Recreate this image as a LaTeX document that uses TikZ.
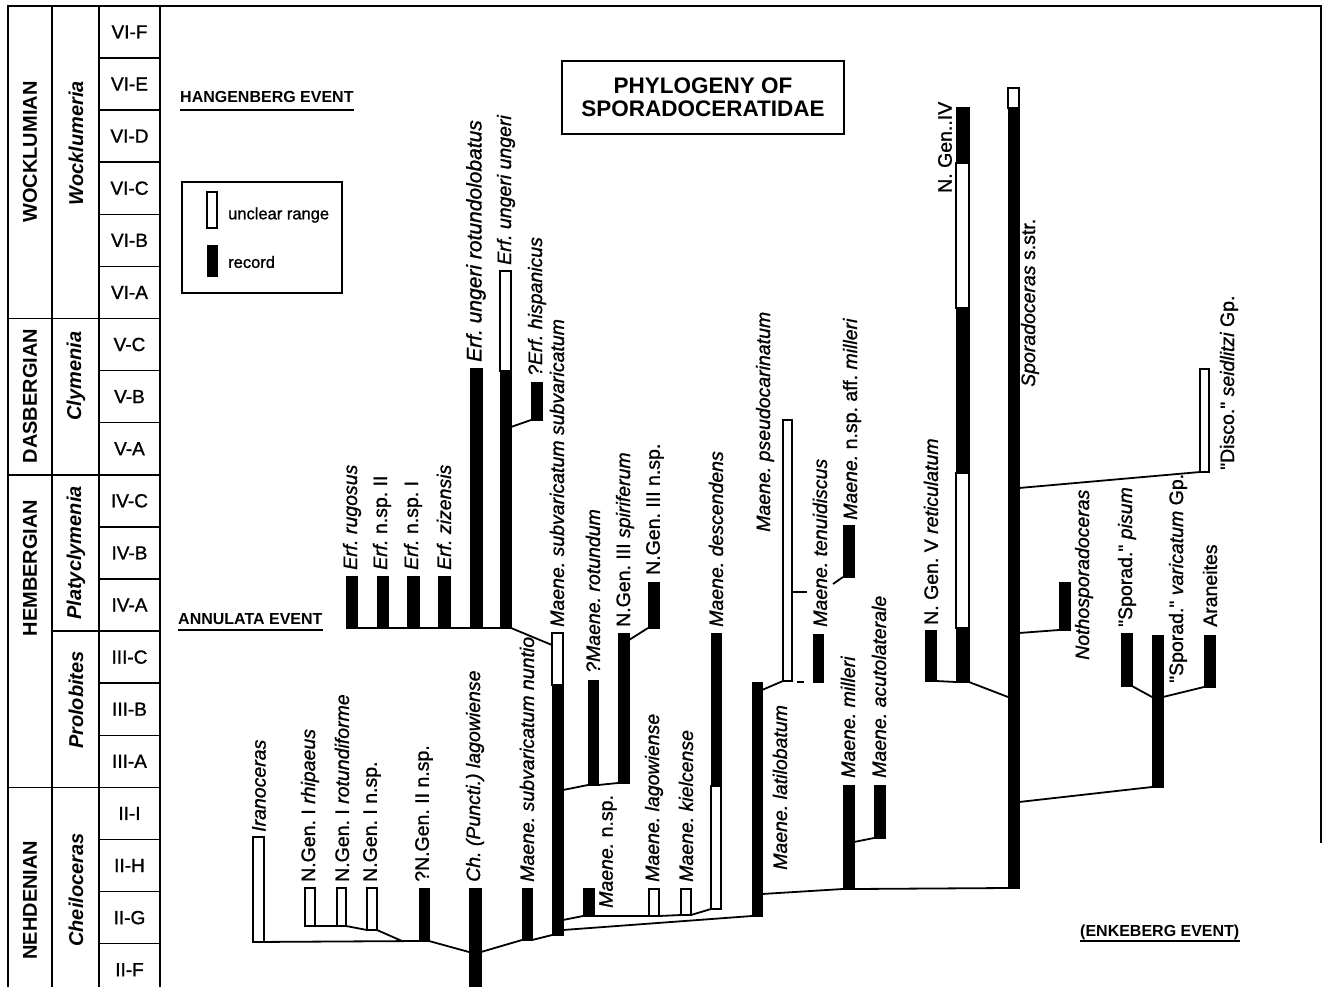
\documentclass[tikz,border=0pt]{standalone}
\usepackage{fontspec}
\setmainfont{Liberation Sans}
\newfontfamily\heavysans{Liberation Sans}[FakeBold=1.1]
\frenchspacing
\newcommand\rbar[6]{\node[#6,minimum width={(#3-#2)*1pt},minimum height={(#5-#4)*1pt}] (#1) at ({(#2+#3)/2},{(#4+#5)/2}) {};}
\newcommand\qq{\symbol{"22}}
\begin{document}
\begin{tikzpicture}[x=1pt,y=-1pt,
  frame/.style={line width=1.5pt},
  conn/.style={line width=1.8pt},
  uline/.style={line width=1.3pt},
  wbar/.style={draw=black, fill=white, line width=1.3pt, inner sep=0pt, outer sep=0pt},
  bbar/.style={draw=black, fill=black, line width=0.4pt, inner sep=0pt, outer sep=0pt},
  lbl/.style={font=\heavysans\fontsize{19.5}{22}\selectfont, rotate=90, anchor=west, inner sep=0pt},
  zone/.style={font=\heavysans\fontsize{19}{22}\selectfont, inner sep=0pt},
  stage/.style={font=\fontsize{20}{22}\selectfont\bfseries, rotate=90, inner sep=0pt},
  genus/.style={font=\fontsize{20}{22}\selectfont\bfseries\itshape, rotate=90, inner sep=0pt},
  event/.style={font=\fontsize{16}{18}\selectfont\bfseries, inner sep=0pt, anchor=base west},
  legtxt/.style={font=\heavysans\fontsize{16.5}{18}\selectfont, inner sep=0pt, anchor=west},
  ]
\useasboundingbox (0,0) rectangle (1322,987);

% ---------- frame and stratigraphic column ----------
\coordinate (tl) at (8,6);
\coordinate (tr) at (1321,6);
\coordinate (br) at (1321,843);
\draw[frame] (8,987) -- (tl) -- (tr) -- (br);
\draw[frame] (52,6) -- (52,987);
\draw[frame] (99,6) -- (99,987);
\draw[frame] (160,6) -- (160,987);
\foreach \k in {1,...,18} {
  \draw[frame] (99,{5.9+52.1*\k}) -- (160,{5.9+52.1*\k});
}
\draw[frame] (8,318.5) -- (99,318.5);
\draw[frame] (8,474.8) -- (99,474.8);
\draw[frame] (52,631) -- (99,631);
\draw[frame] (8,787.4) -- (99,787.4);

\foreach \z [count=\i from 0] in {VI-F,VI-E,VI-D,VI-C,VI-B,VI-A,V-C,V-B,V-A,IV-C,IV-B,IV-A,III-C,III-B,III-A,II-I,II-H,II-G,II-F} {
  \node[zone] (z\i) at (129.5,{5.9+52.1*\i+26}) {\z};
}
\node[stage] (st1) at (30,152) {WOCKLUMIAN};
\node[stage] (st2) at (30,396) {DASBERGIAN};
\node[stage] (st3) at (30,568) {HEMBERGIAN};
\node[stage] (st4) at (30,900) {NEHDENIAN};
\node[genus] (g1) at (76,143) {Wocklumeria};
\node[genus] (g2) at (76,376) {Clymenia};
\node[genus] (g3) at (76,553) {Platyclymenia};
\node[genus] (g4) at (76,700) {Prolobites};
\node[genus] (g5) at (76,890) {Cheiloceras};

% ---------- title, legend, events ----------
\node[draw, line width=1.3pt, minimum width=282pt, minimum height=73pt, inner sep=0pt,
      font=\fontsize{22.5}{23}\selectfont\bfseries, align=center] (title) at (703,97.5)
      {PHYLOGENY OF\\SPORADOCERATIDAE};
\node[draw, line width=1.3pt, minimum width=160pt, minimum height=111pt] (legend) at (262,237.5) {};
\rbar{legw}{207}{217}{192}{228}{wbar}
\rbar{legb}{207}{217}{245}{276}{bbar}
\node[legtxt] (legwt) at (228,215) {unclear range};
\node[legtxt] (legbt) at (228,262) {record};

\node[event] (hang) at (180,103) {HANGENBERG EVENT};
\draw[uline] ([yshift=-7pt]hang.base west) -- ([yshift=-7pt]hang.base east);
\node[event] (annu) at (178,624) {ANNULATA EVENT};
\draw[uline] ([yshift=-6pt]annu.base west) -- ([yshift=-6pt]annu.base east);
\node[event] (enke) at (1080,936) {(ENKEBERG EVENT)};
\draw[uline] ([yshift=-5pt]enke.base west) -- ([yshift=-5pt]enke.base east);

% ---------- range bars ----------
\rbar{iran}{253}{264}{837}{942}{wbar}
\rbar{rhip}{305}{315}{888}{926}{wbar}
\rbar{rotf}{337}{346}{888}{926}{wbar}
\rbar{ngin}{367}{377}{888}{930}{wbar}
\rbar{ngii}{419}{429}{888}{941}{bbar}
\rbar{chpl}{469}{481}{888}{990}{bbar}
\rbar{nunt}{522}{532}{888}{940}{bbar}
\rbar{mssw}{552}{563}{633}{685}{wbar}
\rbar{mss}{552}{563}{685}{935}{bbar}
\rbar{rugo}{346}{357}{576}{628}{bbar}
\rbar{erf2}{377}{388}{576}{628}{bbar}
\rbar{erf1}{407}{419}{576}{628}{bbar}
\rbar{ziz}{438}{450}{576}{628}{bbar}
\rbar{urot}{470}{482}{368}{628}{bbar}
\rbar{uunw}{500}{511}{271}{371}{wbar}
\rbar{uun}{500}{511}{371}{628}{bbar}
\rbar{hisp}{531}{542}{382}{420}{bbar}
\rbar{mnsp}{583}{594}{888}{916}{bbar}
\rbar{rotu}{588}{598}{680}{785}{bbar}
\rbar{spir}{618}{629}{633}{783}{bbar}
\rbar{ngiii}{648}{659}{582}{628}{bbar}
\rbar{lago}{649}{659}{889}{916}{wbar}
\rbar{kiel}{681}{691}{889}{915}{wbar}
\rbar{desc}{711}{721}{633}{786}{bbar}
\rbar{descw}{711}{721}{786}{909}{wbar}
\rbar{lati}{752}{762}{682}{916}{bbar}
\rbar{pseu}{783}{792}{420}{681}{wbar}
\rbar{tenu}{813}{823}{634}{682}{bbar}
\rbar{affm}{843}{854}{525}{577}{bbar}
\rbar{mill}{843}{854}{785}{889}{bbar}
\rbar{acut}{874}{885}{785}{838}{bbar}
\rbar{reti}{925}{936}{630}{681}{bbar}
\rbar{ngiva}{956}{969}{107}{163}{bbar}
\rbar{ngivb}{956}{969}{163}{308}{wbar}
\rbar{ngivc}{956}{969}{308}{473}{bbar}
\rbar{ngivd}{956}{969}{473}{628}{wbar}
\rbar{ngiv}{956}{969}{628}{682}{bbar}
\rbar{sporw}{1008}{1019}{88}{108}{wbar}
\rbar{spor}{1008}{1019}{108}{888}{bbar}
\rbar{disc}{1200}{1209}{369}{472}{wbar}
\rbar{noth}{1059}{1070}{582}{630}{bbar}
\rbar{pisu}{1121}{1132}{633}{686}{bbar}
\rbar{vari}{1152}{1163}{635}{787}{bbar}
\rbar{aran}{1204}{1215}{635}{687}{bbar}

% ---------- junction points ----------
\coordinate (j1) at (402,941);
\coordinate (chL) at (469,952);
\coordinate (chR) at (481,952);
\coordinate (mssA) at (552,645);
\coordinate (uunJ) at (511,427);
\coordinate (mssB) at (563,790);
\coordinate (spirJ) at (629,640);
\coordinate (mssC) at (563,920);
\coordinate (mssD) at (563,930);
\coordinate (latiA) at (762,690);
\coordinate (dashA) at (797,682);
\coordinate (dashB) at (804,682);
\coordinate (pseuJ) at (792,592);
\coordinate (pseuT) at (807,592);
\coordinate (stub) at (833,584);
\coordinate (latiB) at (762,894);
\coordinate (millJ) at (854,842);
\coordinate (sporA) at (1008,697);
\coordinate (sporB) at (1019,488);
\coordinate (sporC) at (1019,633);
\coordinate (variA) at (1152,697);
\coordinate (variB) at (1163,697);
\coordinate (sporD) at (1019,802);

% ---------- connectors ----------
\draw[conn] (iran.south west) -- (ngii.south west);
\draw[conn] (rhip.south east) -- (rotf.south west);
\draw[conn] (rotf.south east) -- (ngin.south west);
\draw[conn] (ngin.south east) -- (j1);
\draw[conn] (ngii.south east) -- (chL);
\draw[conn] (chR) -- (nunt.south west);
\draw[conn] (nunt.south east) -- (mss.south west);
\draw[conn] (rugo.south west) -- (uun.south east) -- (mssA);
\draw[conn] (uunJ) -- (hisp.south west);
\draw[conn] (mssB) -- (rotu.south west);
\draw[conn] (rotu.south east) -- (spir.south west);
\draw[conn] (spirJ) -- (ngiii.south west);
\draw[conn] (mssC) -- (mnsp.south west);
\draw[conn] (mnsp.south east) -- (lago.south west);
\draw[conn] (lago.south east) -- (kiel.south west);
\draw[conn] (kiel.south east) -- (descw.south west);
\draw[conn] (mssD) -- (lati.south west);
\draw[conn] (latiA) -- (pseu.south west);
\draw[conn] (dashA) -- (dashB);
\draw[conn] (pseuJ) -- (pseuT);
\draw[conn] (stub) -- (affm.south west);
\draw[conn] (latiB) -- (mill.south west);
\draw[conn] (mill.south east) -- (spor.south west);
\draw[conn] (millJ) -- (acut.south west);
\draw[conn] (reti.south east) -- (ngiv.south west);
\draw[conn] (ngiv.south east) -- (sporA);
\draw[conn] (sporB) -- (disc.south west);
\draw[conn] (sporC) -- (noth.south west);
\draw[conn] (pisu.south east) -- (variA);
\draw[conn] (variB) -- (aran.south west);
\draw[conn] (vari.south west) -- (sporD);

% ---------- taxon labels ----------
\node[lbl] (t1) at (259,832) {\itshape Iranoceras};
\node[lbl] (t2) at (310,882) {N.Gen. I \itshape rhipaeus};
\node[lbl] (t3) at (342,882) {N.Gen. I \itshape rotundiforme};
\node[lbl] (t4) at (372,882) {N.Gen. I n.sp.};
\node[lbl] (t5) at (424,882) {?N.Gen. II n.sp.};
\node[lbl] (t6) at (475,882) {\itshape Ch. (Puncti.) lagowiense};
\node[lbl] (t7) at (527,882) {\itshape Maene. subvaricatum nuntio};
\node[lbl] (t8) at (557,627) {\itshape Maene. subvaricatum subvaricatum};
\node[lbl] (t9) at (352,570) {\itshape Erf. rugosus};
\node[lbl] (t10) at (382,570) {\itshape Erf.\upshape{} n.sp. II};
\node[lbl] (t11) at (413,570) {\itshape Erf.\upshape{} n.sp. I};
\node[lbl] (t12) at (444,570) {\itshape Erf. zizensis};
\node[lbl, font=\heavysans\fontsize{21}{22}\selectfont] (t13) at (476,362) {\itshape Erf. ungeri rotundolobatus};
\node[lbl] (t14) at (506,265) {\itshape Erf. ungeri ungeri};
\node[lbl] (t15) at (537,376) {\itshape ?Erf. hispanicus};
\node[lbl] (t16) at (608,908) {\itshape Maene.\upshape{} n.sp.};
\node[lbl] (t17) at (593,673) {\itshape ?Maene. rotundum};
\node[lbl] (t18) at (625,627) {N.Gen. III \itshape spiriferum};
\node[lbl] (t19) at (655,575) {N.Gen. III n.sp.};
\node[lbl] (t20) at (654,882) {\itshape Maene. lagowiense};
\node[lbl] (t21) at (686,882) {\itshape Maene. kielcense};
\node[lbl] (t22) at (716,627) {\itshape Maene. descendens};
\node[lbl] (t23) at (780,870) {\itshape Maene. latilobatum};
\node[lbl] (t24) at (765,532) {\itshape Maene. pseudocarinatum};
\node[lbl] (t25) at (820,627) {\itshape Maene. tenuidiscus};
\node[lbl] (t26) at (852,520) {\itshape Maene.\upshape{} n.sp. aff. \itshape milleri};
\node[lbl] (t27) at (848,778) {\itshape Maene. milleri};
\node[lbl] (t28) at (879,778) {\itshape Maene. acutolaterale};
\node[lbl] (t29) at (931,625) {N. Gen. V \itshape reticulatum};
\node[lbl] (t30) at (945,193) {N. Gen..IV};
\node[lbl] (t31) at (1030,387) {\itshape Sporadoceras\upshape{} s.str.};
\node[lbl] (t32) at (1229,470) {\qq Disco.\qq{} \itshape seidlitzi\upshape{} Gp.};
\node[lbl] (t33) at (1084,660) {\itshape Nothosporadoceras};
\node[lbl] (t34) at (1127,627) {\qq Sporad.\qq{} \itshape pisum};
\node[lbl] (t35) at (1178,683) {\qq Sporad.\qq{} \itshape varicatum\upshape{} Gp.};
\node[lbl] (t36) at (1210,627) {Araneites};
\end{tikzpicture}
\end{document}
